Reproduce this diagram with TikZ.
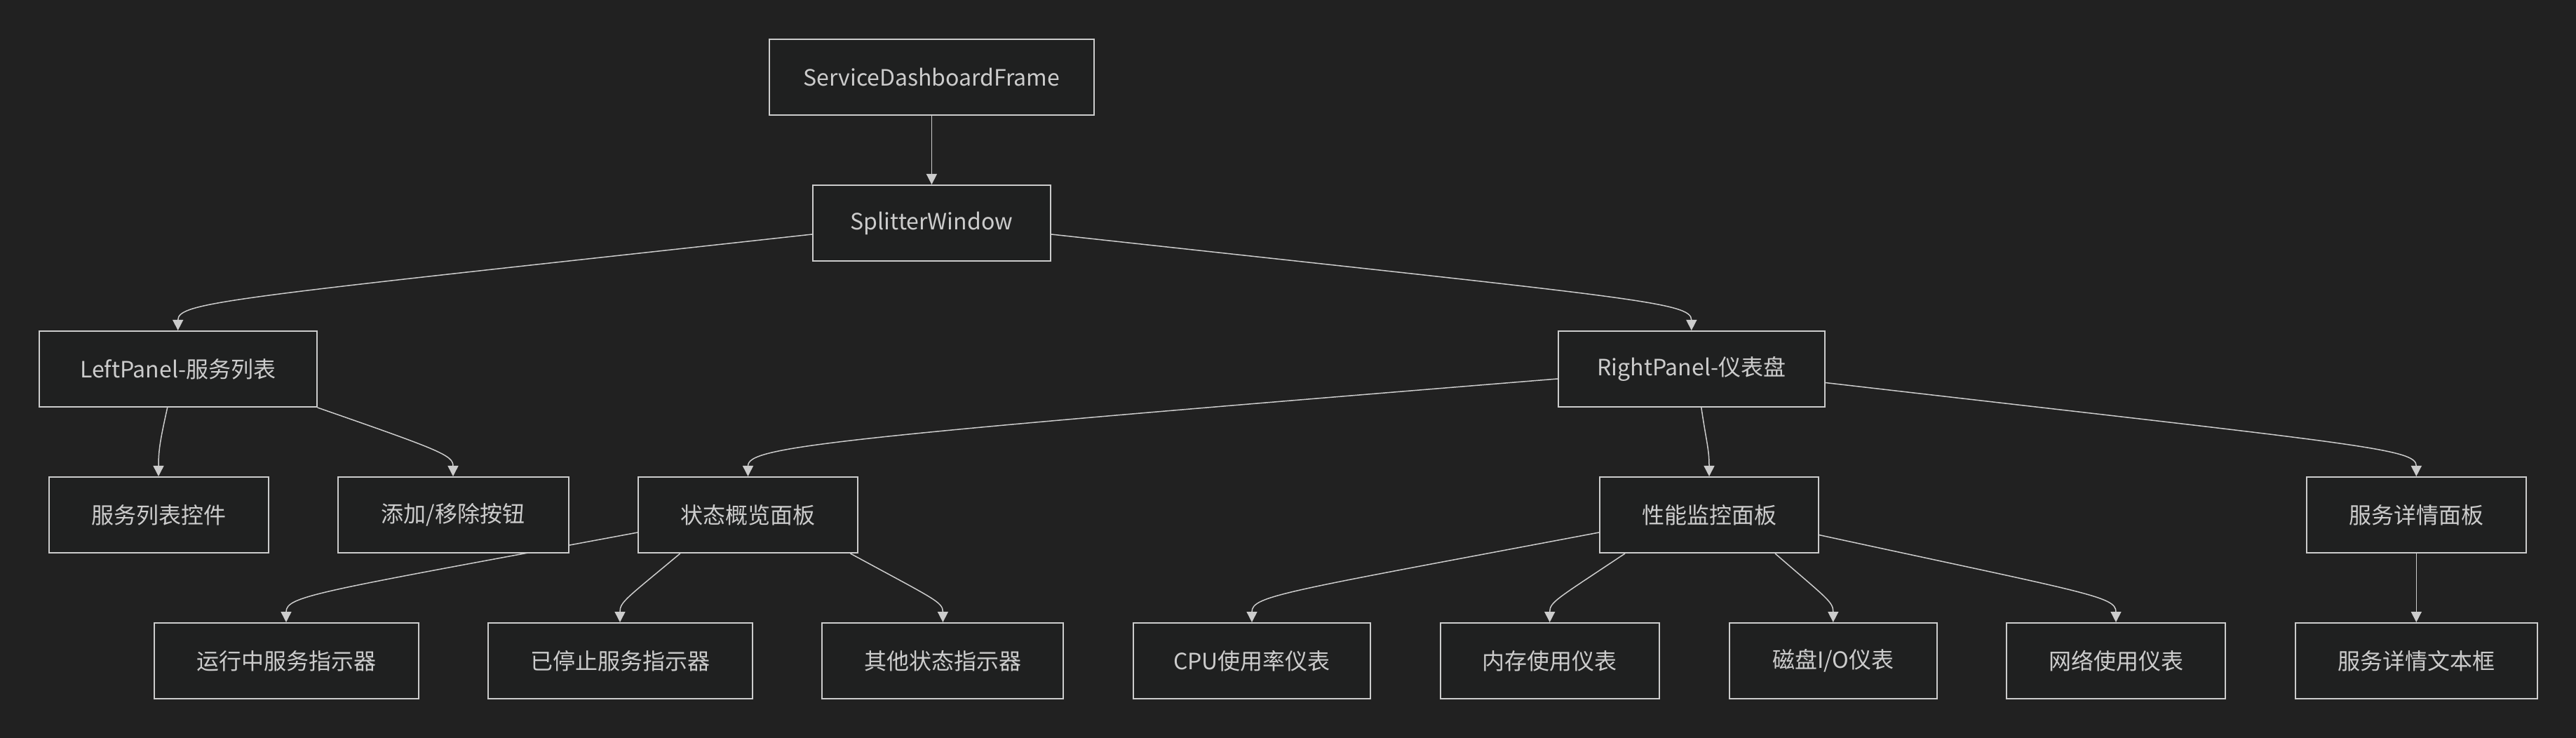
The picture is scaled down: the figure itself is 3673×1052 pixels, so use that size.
\documentclass[tikz,border=0pt]{standalone}
\usepackage{fontspec}
\setmainfont{Noto Sans CJK SC}
\usetikzlibrary{arrows.meta,calc}
\pgfdeclarelayer{bglayer}
\pgfdeclarelayer{edgelayer}
\pgfsetlayers{bglayer,edgelayer,main}
\definecolor{bgc}{HTML}{212121}
\definecolor{nodefill}{HTML}{1F2020}
\definecolor{linec}{HTML}{CCCCCC}
\definecolor{textc}{HTML}{CCCCCC}
\tikzset{
  box/.style={draw=linec, line width=1pt, fill=nodefill, text=textc,
    font=\fontsize{16pt}{19pt}\selectfont, minimum height=54pt, inner sep=0pt, anchor=center},
  conn/.style={draw=linec, line width=0.75pt, -{Triangle[length=7.5pt,width=7.5pt]}},
}
\begin{document}
\begin{tikzpicture}[x=0.5pt,y=-0.5pt]
\begin{pgfonlayer}{bglayer}
\fill[bgc] (0,0) rectangle (3673,1052);
\end{pgfonlayer}
\useasboundingbox (0,0) rectangle (3673,1052);
% nodes
\node[box, minimum width=231.5pt] (SDF) at (1328.4,110) {ServiceDashboardFrame};
\node[box, minimum width=169.5pt] (SW) at (1328.4,318) {SplitterWindow};
\node[box, minimum width=198pt] (LP) at (253.7,526) {LeftPanel-服务列表};
\node[box, minimum width=190pt] (RP) at (2411.8,526) {RightPanel-仪表盘};
\node[box, minimum width=156.5pt] (A1) at (226,734) {服务列表控件};
\node[box, minimum width=164.5pt] (A2) at (646,734) {添加/移除按钮};
\node[box, minimum width=156.25pt] (S) at (1066.5,734) {状态概览面板};
\node[box, minimum width=156pt] (P) at (2437,734) {性能监控面板};
\node[box, minimum width=156.5pt] (D) at (3445.3,734) {服务详情面板};
\node[box, minimum width=188.5pt] (S1) at (408,942) {运行中服务指示器};
\node[box, minimum width=188.5pt] (S2) at (884,942) {已停止服务指示器};
\node[box, minimum width=172pt] (S3) at (1344.4,942) {其他状态指示器};
\node[box, minimum width=169pt] (P1) at (1785,942) {CPU使用率仪表};
\node[box, minimum width=156pt] (P2) at (2209.7,942) {内存使用仪表};
\node[box, minimum width=148pt] (P3) at (2613.8,942) {磁盘I/O仪表};
\node[box, minimum width=156.25pt] (P4) at (3017,942) {网络使用仪表};
\node[box, minimum width=172.5pt] (D1) at (3445.3,942) {服务详情文本框};
% edges
\begin{pgfonlayer}{edgelayer}
\draw[conn] (SDF.south) -- (SW.north);
\draw[conn] ($(SW.west)+(0,16)$) .. controls (330,425) and (253.7,430) .. (LP.north);
\draw[conn] ($(SW.east)+(0,16)$) .. controls (2330,425) and (2411.8,430) .. (RP.north);
\draw[conn] ($(LP.south)+(-15,0)$) .. controls (229,625) and (226,640) .. (A1.north);
\draw[conn] (LP.south east) .. controls (628,642) and (646,649) .. (A2.north);
\draw[conn] ($(RP.west)+(0,14)$) .. controls (1171,625) and (1066.5,637) .. (S.north);
\draw[conn] ($(RP.south)+(14,0)$) .. controls (2433,630) and (2437,640) .. (P.north);
\draw[conn] ($(RP.east)+(0,19.5)$) .. controls (3369,634) and (3445.3,639) .. (D.north);
\draw[conn] ($(S.west)+(0,25)$) .. controls (453,844) and (408,849) .. (S1.north);
\draw[conn] ($(S.south)+(-96.7,0)$) .. controls (892,854) and (884,858) .. (S2.north);
\draw[conn] ($(S.south)+(146,0)$) .. controls (1332,854) and (1344.4,858) .. (S3.north);
\draw[conn] ($(P.west)+(0,25)$) .. controls (1830,844) and (1785,849) .. (P1.north);
\draw[conn] ($(P.south)+(-120,0)$) .. controls (2219.5,854) and (2209.7,858) .. (P2.north);
\draw[conn] ($(P.south)+(94,0)$) .. controls (2606,854) and (2613.8,858) .. (P3.north);
\draw[conn] ($(P.east)+(0,28.6)$) .. controls (2979,846) and (3017,850) .. (P4.north);
\draw[conn] (D.south) -- (D1.north);
\end{pgfonlayer}
\end{tikzpicture}
\end{document}
